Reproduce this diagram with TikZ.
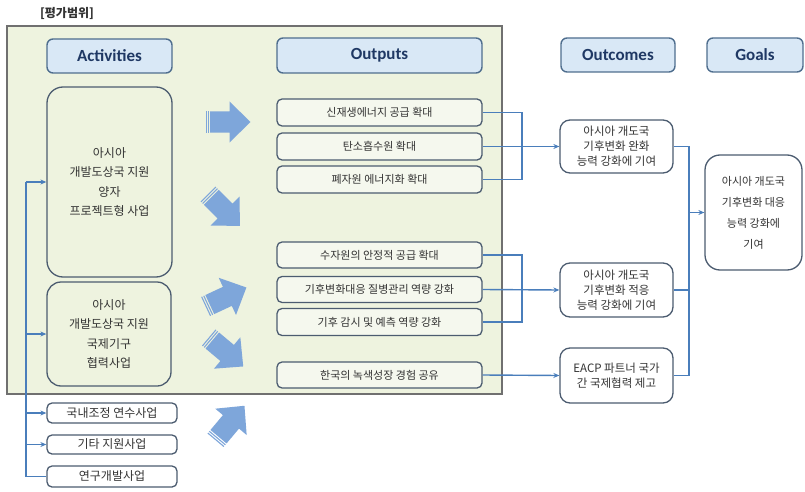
\documentclass[tikz,border=0pt]{standalone}
\usepackage{fontspec}
\setmainfont{Carlito}
\newfontfamily\kr{Noto Sans CJK KR}
\usetikzlibrary{arrows.meta}

\definecolor{panel}{HTML}{EEF3DF}
\definecolor{panelline}{HTML}{707070}
\definecolor{headfill}{HTML}{D9E8F6}
\definecolor{headline}{HTML}{4F6E8E}
\definecolor{boxline}{HTML}{4C5C70}
\definecolor{boxfill}{HTML}{F5F8EE}
\definecolor{link}{HTML}{4A7EBB}
\definecolor{fat}{HTML}{7EA6DA}
\definecolor{ink}{HTML}{1F3864}
\definecolor{krink}{HTML}{333333}

\tikzset{
  head/.style={draw=headline, line width=1.4pt, fill=headfill, rounded corners=6pt,
    font=\fontsize{17}{17}\selectfont\bfseries, text=ink, inner sep=0pt},
  actbox/.style={draw=boxline, line width=1.3pt, fill=panel, rounded corners=16pt,
    font=\kr\fontsize{12}{19.5}\selectfont, align=center, text=krink, inner sep=0pt},
  smallbox/.style={draw=boxline, line width=1.3pt, fill=white, rounded corners=5pt,
    font=\kr\fontsize{12}{13}\selectfont, text=krink, inner sep=0pt},
  outbox/.style={draw=boxline, line width=1.3pt, fill=boxfill, rounded corners=5pt,
    font=\kr\fontsize{11}{13}\selectfont, text=krink, inner sep=0pt},
  resbox/.style={draw=boxline, line width=1.3pt, fill=white, rounded corners=10pt,
    font=\kr\fontsize{11.5}{15}\selectfont, align=center, text=krink, inner sep=0pt},
  goalbox/.style={draw=boxline, line width=1.3pt, fill=white, rounded corners=15pt,
    font=\kr\fontsize{11}{21}\selectfont, align=center, text=krink, inner sep=0pt},
  link/.style={draw=link, line width=1.4pt},
  linkarrow/.style={link, -{Stealth[length=6pt,width=5pt]}},
  fatarrow/.pic={
    \fill[fat] (-22.5,-10.5) rectangle (-21.4,10.5);
    \fill[fat] (-20.2,-10.5) rectangle (-19.1,10.5);
    \fill[fat] (-17.9,-10.5) -- (1.5,-10.5) -- (1.5,-20.5) -- (22.5,0)
      -- (1.5,20.5) -- (1.5,10.5) -- (-17.9,10.5) -- cycle;
  }
}

\begin{document}
\begin{tikzpicture}[x=1pt,y=-1pt]
  \path[use as bounding box] (0,0) rectangle (805,492);

  % scope label and evaluation panel
  \node[font=\kr\bfseries\fontsize{12}{14}\selectfont, text=krink] (scope) at (67,13) {[평가범위]};
  \draw[draw=panelline, line width=1.2pt, fill=panel] (7,26) rectangle (502,394);

  % column headers
  \node[head, minimum width=125pt, minimum height=34pt] (hact) at (109.5,56) {Activities};
  \node[head, minimum width=205pt, minimum height=35pt] (hout) at (379.5,55.5) {Outputs};
  \node[head, minimum width=114pt, minimum height=34pt] (hres) at (618,55) {Outcomes};
  \node[head, minimum width=96pt, minimum height=34pt] (hgoal) at (755,55) {Goals};

  % activities
  \node[actbox, minimum width=125pt, minimum height=190pt] (act1) at (109.5,182)
    {아시아\\개발도상국 지원\\양자\\프로젝트형 사업};
  \node[actbox, minimum width=124pt, minimum height=104pt, rounded corners=14pt] (act2) at (109,334)
    {아시아\\개발도상국 지원\\국제기구\\협력사업};
  \node[smallbox, minimum width=130pt, minimum height=20pt] (sm1) at (112,413) {국내조정 연수사업};
  \node[smallbox, minimum width=130pt, minimum height=19pt] (sm2) at (112,444.5) {기타 지원사업};
  \node[smallbox, minimum width=130pt, minimum height=21pt] (sm3) at (112,476.5) {연구개발사업};

  % outputs
  \node[outbox, minimum width=205pt, minimum height=27pt] (o1) at (379.5,112.5) {신재생에너지 공급 확대};
  \node[outbox, minimum width=205pt, minimum height=27pt] (o2) at (379.5,146.5) {탄소흡수원 확대};
  \node[outbox, minimum width=205pt, minimum height=27pt] (o3) at (379.5,179.5) {폐자원 에너지화 확대};
  \node[outbox, minimum width=205pt, minimum height=26pt] (o4) at (379.5,255) {수자원의 안정적 공급 확대};
  \node[outbox, minimum width=205pt, minimum height=26pt] (o5) at (379.5,289.5) {기후변화대응 질병관리 역량 강화};
  \node[outbox, minimum width=205pt, minimum height=27pt] (o6) at (379.5,322) {기후 감시 및 예측 역량 강화};
  \node[outbox, minimum width=205pt, minimum height=26pt] (o7) at (379.5,375) {한국의 녹색성장 경험 공유};

  % outcomes and goal
  \node[resbox, minimum width=113pt, minimum height=53pt] (oc1) at (616.5,146.5)
    {아시아 개도국\\기후변화 완화\\능력 강화에 기여};
  \node[resbox, minimum width=113pt, minimum height=54pt] (oc2) at (616.5,290)
    {아시아 개도국\\기후변화 적응\\능력 강화에 기여};
  \node[resbox, minimum width=113pt, minimum height=55pt] (oc3) at (616.5,375.5)
    {EACP 파트너 국가\\간 국제협력 제고};
  \node[goalbox, minimum width=97pt, minimum height=115pt] (goal) at (753.5,212.5)
    {아시아 개도국\\기후변화 대응\\능력 강화에\\기여};

  % activity feeder line
  \coordinate (trunk) at (26,0);
  \draw[link] (trunk |- act1.west) -- (trunk |- sm3.west) -- (sm3.west);
  \foreach \n in {act1,act2,sm1,sm2}
    \draw[linkarrow] (trunk |- \n.west) -- (\n.west);

  % outputs to outcomes
  \coordinate (busA) at (522,0);
  \draw[link] (o1.east) -- (busA |- o1.east) -- (busA |- o3.east) -- (o3.east);
  \draw[linkarrow] (o2.east) -- (oc1.west);
  \draw[link] (o4.east) -- (busA |- o4.east) -- (busA |- o6.east) -- (o6.east);
  \draw[linkarrow] (o5.east) -- (oc2.west);
  \draw[linkarrow] (o7.east) -- (oc3.west);

  % outcomes to goal
  \coordinate (busB) at (689,0);
  \draw[link] (oc1.east) -- (busB |- oc1.east) -- (busB |- oc3.east) -- (oc3.east);
  \draw[link] (oc2.east) -- (busB |- oc2.east);
  \draw[linkarrow] (busB |- goal.west) -- (goal.west);

  % broad arrows between activities and outputs
  \pic at (228,122) {fatarrow};
  \pic[rotate=-45] at (224,210) {fatarrow};
  \pic[rotate=25] at (226,297) {fatarrow};
  \pic[rotate=-40] at (226,352) {fatarrow};
  \pic[rotate=50] at (230,423) {fatarrow};
\end{tikzpicture}
\end{document}
